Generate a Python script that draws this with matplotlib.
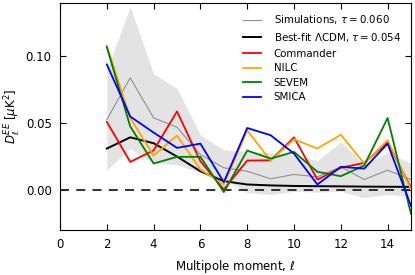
import matplotlib
matplotlib.use("Agg")
import matplotlib.pyplot as plt
import numpy as np

plt.rcParams['mathtext.fontset'] = 'dejavusans'

ell = np.arange(2, 16)

# simulation mean and band
sim_mean = [0.0526, 0.084, 0.054, 0.047, 0.0265, 0.0166, 0.014, 0.0084, 0.0116, 0.0098, 0.0173, 0.0078, 0.0148, 0.0078]
sim_hi = [0.090, 0.137, 0.087, 0.076, 0.041, 0.030, 0.029, 0.028, 0.026, 0.022, 0.036, 0.019, 0.028, 0.020]
sim_lo = [0.015, 0.031, 0.020, 0.019, 0.0128, 0.0084, -0.002, -0.0034, -0.001, -0.0016, -0.001, -0.0058, -0.0034, -0.005]

bestfit = [0.031, 0.0394, 0.035, 0.025, 0.014, 0.0066, 0.0041, 0.0034, 0.003, 0.0028, 0.0027, 0.0025, 0.0024, 0.0023]

commander = [0.051, 0.021, 0.0297, 0.0588, 0.0215, 0.0004, 0.022, 0.0222, 0.0394, 0.0078, 0.0166, 0.0203, 0.0357, 0.0016]
nilc = [0.108, 0.054, 0.0257, 0.0407, 0.0153, 0.004, 0.0446, 0.022, 0.038, 0.031, 0.0414, 0.0198, 0.0372, 0.0004]
sevem = [0.107, 0.0476, 0.0198, 0.0248, 0.0248, -0.0016, 0.0295, 0.0235, 0.0285, 0.0136, 0.0103, 0.0183, 0.0539, -0.018]
smica = [0.094, 0.055, 0.043, 0.0315, 0.0347, 0.0058, 0.0464, 0.041, 0.0272, 0.0041, 0.0173, 0.016, 0.0347, -0.012]

fig = plt.figure(figsize=(4.15, 2.75), dpi=100)
ax = fig.add_axes([0.1446, 0.1636, 0.8458, 0.8254])

ax.fill_between(ell, sim_lo, sim_hi, color='#e3e3e3', linewidth=0)
ax.axhline(0, color='#222222', linestyle='--', linewidth=1.3, dashes=(5, 4))
ax.plot(ell, sim_mean, color='#909090', linewidth=0.8, label=r'Simulations, $\tau = 0.060$')
ax.plot(ell, bestfit, color='black', linewidth=1.4, label=r'Best-fit $\Lambda$CDM, $\tau = 0.054$')
ax.plot(ell, commander, color='red', linewidth=1.3, label='Commander')
ax.plot(ell, nilc, color='orange', linewidth=1.3, label='NILC')
ax.plot(ell, sevem, color='green', linewidth=1.3, label='SEVEM')
ax.plot(ell, smica, color='blue', linewidth=1.3, label='SMICA')

ax.set_xlim(0, 15)
ax.set_ylim(-0.03, 0.14)
ax.set_xticks(np.arange(0, 15, 2))
ax.set_yticks([0.0, 0.05, 0.10])
ax.set_yticklabels(['0.00', '0.05', '0.10'])
ax.tick_params(direction='in', top=True, right=True, labelsize=8.5, length=4, pad=6)
ax.set_xlabel(r'Multipole moment, $\ell$', fontsize=8.5, labelpad=5)
ax.set_ylabel(r'$D_\ell^{EE}$ [$\mu$K$^2$]', fontsize=8.5, labelpad=2)

ax.legend(loc='upper right', frameon=False, fontsize=7.4, handlelength=1.8,
          handletextpad=1.2, labelspacing=0.45, borderaxespad=0.6)

fig.savefig('out.png', dpi=100)
